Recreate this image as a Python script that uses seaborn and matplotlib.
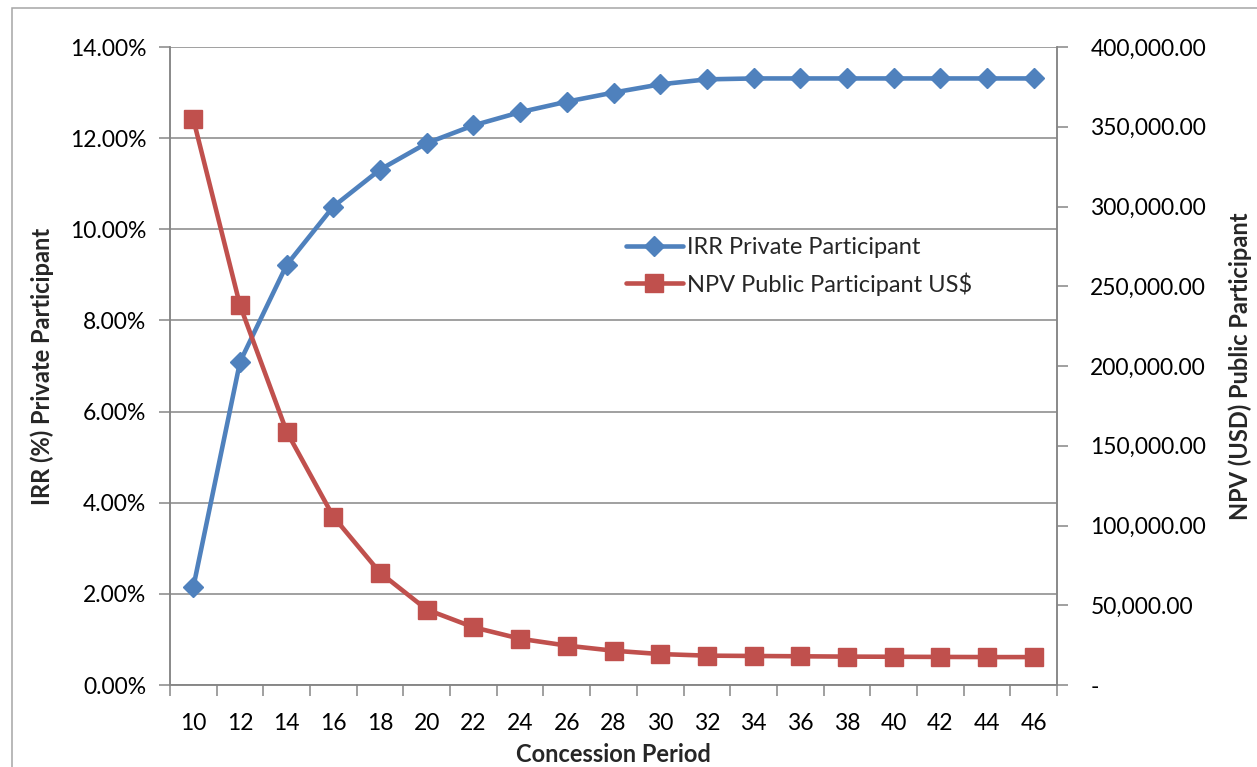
import numpy as np
import pandas as pd
import matplotlib
matplotlib.use("Agg")
import matplotlib.pyplot as plt
import matplotlib.ticker as mticker
from matplotlib.patches import Rectangle
from matplotlib.lines import Line2D
import seaborn as sns

# Concession period (years) and results per period
periods = [10, 12, 14, 16, 18, 20, 22, 24, 26, 28, 30, 32, 34, 36, 38, 40, 42, 44, 46]
irr_private = [2.15, 7.09, 9.22, 10.50, 11.31, 11.89, 12.28, 12.57, 12.80, 13.00,
               13.18, 13.29, 13.31, 13.31, 13.31, 13.31, 13.31, 13.31, 13.31]
npv_public = [354700, 238000, 158800, 105500, 70400, 47300, 36200, 29000, 24700, 21500,
              19400, 18400, 18200, 18000, 17800, 17700, 17600, 17500, 17500]

irr_label = "IRR Private Participant"
npv_label = "NPV Public Participant US$"

df = pd.DataFrame({"period": periods, "irr": irr_private, "npv": npv_public})

sns.set_theme(style="white")
plt.rcParams["font.family"] = ["Lato", "DejaVu Sans"]

TICK_FS = 16.5
TEXT_FS = 17
BLUE = "#4F81BD"
RED = "#C0504D"
GRID = "#868686"

fig = plt.figure(figsize=(12.57, 7.67), dpi=100)
ax = fig.add_axes([170 / 1257, 1 - 685 / 767, 887 / 1257, 638 / 767])
ax2 = ax.twinx()

sns.lineplot(data=df, x="period", y="irr", ax=ax, color=BLUE, linewidth=3.3,
             marker="D", markersize=10.5, markeredgecolor=BLUE, markeredgewidth=1,
             label=irr_label, legend=False, zorder=3)
sns.lineplot(data=df, x="period", y="npv", ax=ax2, color=RED, linewidth=3.3,
             marker="s", markersize=13, markeredgecolor=RED, markeredgewidth=1,
             label=npv_label, legend=False, zorder=3)

# Left axis: IRR percentage
ax.set_ylim(0, 14)
ax.yaxis.set_major_locator(mticker.MultipleLocator(2))
ax.yaxis.set_major_formatter(mticker.FuncFormatter(lambda v, p: f"{v:.2f}%"))
ax.grid(axis="y", color=GRID, linewidth=1.1)
ax.set_axisbelow(True)

# Right axis: NPV in USD
ax2.set_ylim(0, 400000)
ax2.yaxis.set_major_locator(mticker.MultipleLocator(50000))
ax2.yaxis.set_major_formatter(
    mticker.FuncFormatter(lambda v, p: "-" if v == 0 else f"{v:,.2f}"))
ax2.grid(False)

# Category-style x axis: labels at each period, tick marks between them
ax.set_xlim(9, 47)
ax.set_xticks(periods)
ax.set_xticklabels([str(p) for p in periods])
ax.set_xticks(np.arange(9, 48, 2), minor=True)
ax.tick_params(axis="x", which="major", length=0, pad=20, labelsize=TICK_FS, labelcolor="black")
ax.tick_params(axis="x", which="minor", length=8, width=1.1, color=GRID, direction="out",
               bottom=True)
ax.tick_params(axis="y", which="major", length=8, width=1.1, color=GRID, direction="out",
               left=True, pad=9, labelsize=TICK_FS, labelcolor="black")
ax2.tick_params(axis="y", which="major", length=8, width=1.1, color=GRID, direction="out",
                right=True, pad=16, labelsize=TICK_FS, labelcolor="black")

for a in (ax, ax2):
    for side in ("left", "right", "bottom"):
        a.spines[side].set_color(GRID)
        a.spines[side].set_linewidth(1.1)
    a.spines["top"].set_visible(False)

ax.set_xlabel("Concession Period", fontweight="bold", fontsize=TEXT_FS)
ax.xaxis.set_label_coords(0.4994, -(755 - 685) / 638)
ax.xaxis.label.set_va("center")

ax.set_ylabel("IRR (%) Private Participant", fontweight="bold", fontsize=TEXT_FS, va="center")
ax.yaxis.set_label_coords((42 - 170) / 887, 0.5)
ax2.set_ylabel("NPV (USD) Public Participant", fontweight="bold", fontsize=TEXT_FS,
               va="center", rotation=90)
ax2.yaxis.set_label_coords((1240 - 170) / 887, 0.5)

handles = [
    Line2D([], [], color=BLUE, linewidth=3.3, marker="D", markersize=10.5,
           markeredgecolor=BLUE),
    Line2D([], [], color=RED, linewidth=3.3, marker="s", markersize=13,
           markeredgecolor=RED),
]
ax2.legend(handles, [irr_label, npv_label], loc="upper left",
           bbox_to_anchor=(626 / 1257, 1 - 237 / 767), bbox_transform=fig.transFigure,
           frameon=False, fontsize=TEXT_FS, handlelength=2.4, handletextpad=0.2,
           labelspacing=0.6, borderpad=0, borderaxespad=0)

# Chart-area border
fig.patches.append(Rectangle((12 / 1257, -0.1), 1.2, 1.1 - 8 / 767,
                             transform=fig.transFigure, fill=False,
                             edgecolor="#A6A6A6", linewidth=1.1))

fig.savefig("out.png", dpi=100)
